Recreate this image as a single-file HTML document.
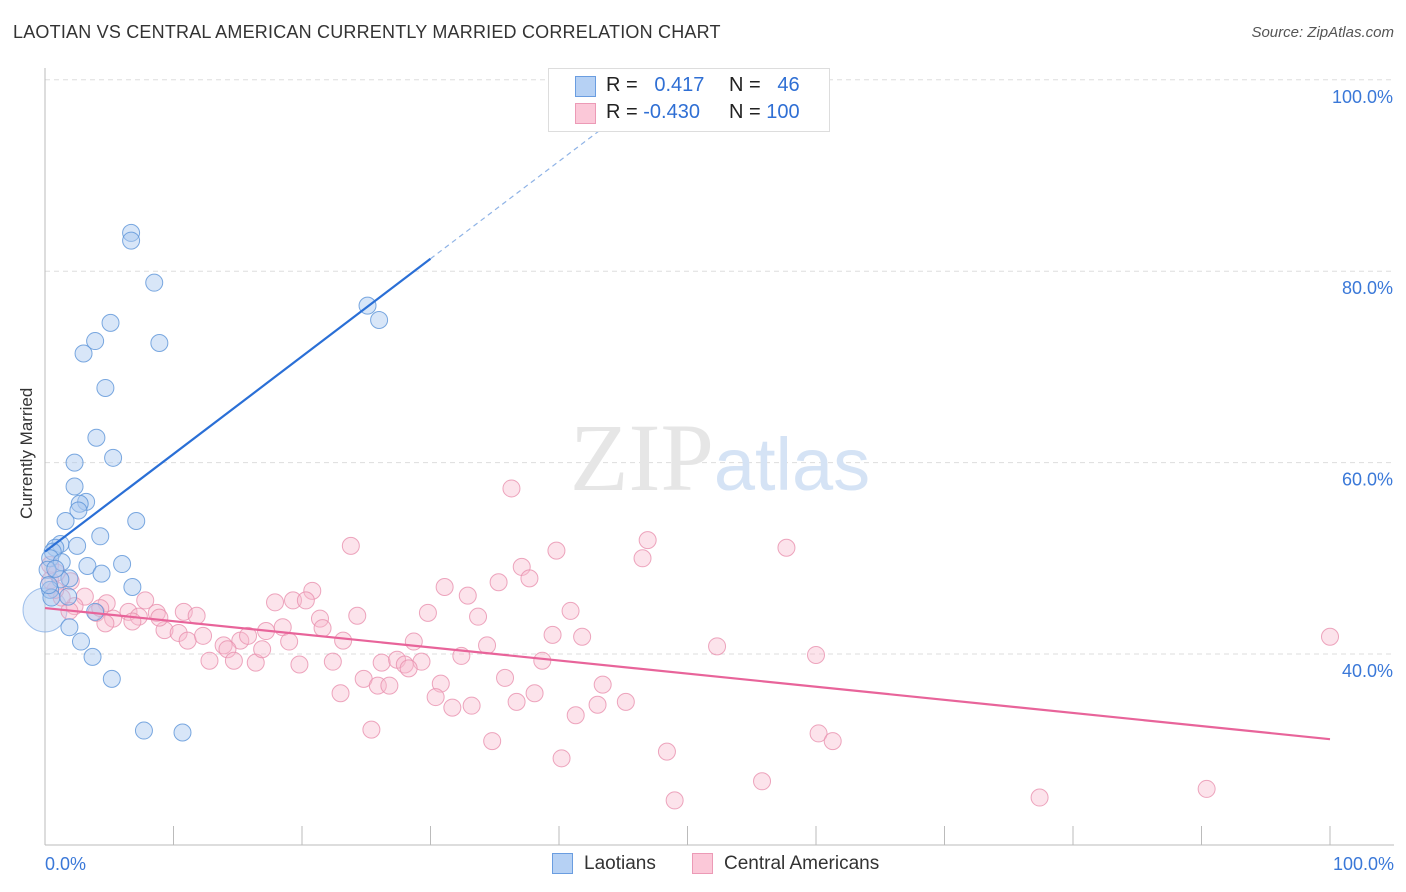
<!DOCTYPE html>
<html><head><meta charset="utf-8"><style>
body{margin:0;background:#fff;font-family:"Liberation Sans",sans-serif;}
#wrap{position:relative;width:1406px;height:892px;overflow:hidden;}
.t{position:absolute;white-space:nowrap;}
</style></head><body>
<div id="wrap">
<div class="t" style="left:13px;top:22px;font-size:18px;color:#333;letter-spacing:0.2px">LAOTIAN VS CENTRAL AMERICAN CURRENTLY MARRIED CORRELATION CHART</div>
<div class="t" style="right:12px;top:24px;font-size:15px;color:#555;font-style:italic">Source: ZipAtlas.com</div>
<div class="t" style="left:-38px;top:444px;font-size:17px;color:#333;transform:rotate(-90deg);width:130px;text-align:center">Currently Married</div>
<svg id="svg" width="1406" height="892" style="position:absolute;left:0;top:0"></svg>
<div class="t" style="left:548px;top:68px;width:280px;height:62px;border:1px solid #ddd;background:#fff"></div>
<div class="t" style="left:575px;top:76px;width:19px;height:19px;background:#b6d1f4;border:1px solid #6a9de0"></div>
<div class="t" style="left:575px;top:103px;width:19px;height:19px;background:#fbc8d8;border:1px solid #ec9ab6"></div>
<div class="t" style="left:606px;top:74px;font-size:20px;color:#222">R = &nbsp;&nbsp;<span style="color:#2f6fd4">0.417</span></div>
<div class="t" style="left:729px;top:74px;font-size:20px;color:#222">N = &nbsp;&nbsp;<span style="color:#2f6fd4">46</span></div>
<div class="t" style="left:606px;top:101px;font-size:20px;color:#222">R = <span style="color:#2f6fd4">-0.430</span></div>
<div class="t" style="left:729px;top:101px;font-size:20px;color:#222">N = <span style="color:#2f6fd4">100</span></div>
<div class="t" style="left:552px;top:853px;width:19px;height:19px;background:#b6d1f4;border:1px solid #6a9de0"></div>
<div class="t" style="left:584px;top:853px;font-size:19px;color:#333">Laotians</div>
<div class="t" style="left:692px;top:853px;width:19px;height:19px;background:#fbc8d8;border:1px solid #ec9ab6"></div>
<div class="t" style="left:724px;top:853px;font-size:19px;color:#333">Central Americans</div>
</div>
<script>
const blueX=[6.7,6.7,8.5,5.1,3.9,3.0,8.9,4.7,4.0,5.3,2.3,2.3,3.2,2.7,2.6,1.6,7.1,4.3,1.2,0.8,2.5,0.6,0.4,3.3,6.0,1.3,4.4,1.9,1.2,0.2,6.8,0.4,1.8,3.9,1.9,2.8,3.7,5.2,7.7,10.7,25.1,26.0,0.5,0.8,0.3];
const blueY=[84.0,83.2,78.8,74.6,72.7,71.4,72.5,67.8,62.6,60.5,60.0,57.5,55.9,55.7,55.0,53.9,53.9,52.3,51.5,51.1,51.3,50.7,50.0,49.2,49.4,49.6,48.4,47.9,47.8,48.8,47.0,46.7,46.0,44.4,42.8,41.3,39.7,37.4,32.0,31.8,76.4,74.9,45.9,48.9,47.2];
const pinkX=[36.3,23.8,39.8,46.9,57.7,46.5,37.1,37.7,35.3,31.1,32.9,20.8,17.9,19.3,20.3,7.8,4.8,3.1,40.9,29.8,24.3,33.7,21.4,10.8,11.8,8.7,6.5,4.0,2.3,1.3,0.8,0.4,0.4,7.3,5.3,6.8,4.7,9.3,10.4,11.1,12.3,13.9,15.2,15.8,17.2,18.5,21.6,23.2,19.0,28.7,39.5,41.8,52.3,34.4,32.4,38.7,60.0,100,12.8,14.2,14.7,16.4,16.9,19.8,22.4,26.2,27.4,28.0,29.3,28.3,24.8,35.8,43.4,30.8,23.0,25.9,26.8,30.4,31.7,33.2,36.7,38.1,41.3,43.0,45.2,25.4,34.8,40.2,48.4,60.2,61.3,49.0,55.8,77.4,90.4,1.9,4.3,8.9,2.0,0.9];
const pinkY=[57.3,51.3,50.8,51.9,51.1,50.0,49.1,47.9,47.5,47.0,46.1,46.6,45.4,45.6,45.6,45.6,45.3,46.0,44.5,44.3,44.0,43.9,43.7,44.4,44.0,44.3,44.4,44.3,45.0,45.9,46.7,47.7,49.3,43.9,43.7,43.4,43.2,42.5,42.2,41.4,41.9,40.9,41.4,41.9,42.4,42.8,42.7,41.4,41.3,41.3,42.0,41.8,40.8,40.9,39.8,39.3,39.9,41.8,39.3,40.5,39.3,39.1,40.5,38.9,39.2,39.1,39.4,38.9,39.2,38.5,37.4,37.5,36.8,36.9,35.9,36.7,36.7,35.5,34.4,34.6,35.0,35.9,33.6,34.7,35.0,32.1,30.9,29.1,29.8,31.7,30.9,24.7,26.7,25.0,25.9,44.5,44.8,43.8,47.6,48.5];
const blueTrend=[0,50.7,30,81.3,46.3,97.9];
const pinkTrend=[0,44.8,100,31.1];
const yTicks=[40,60,80,100];
const xTicks=[0,10,20,30,40,50,60,70,80,90,100];
const NS="http://www.w3.org/2000/svg";
const svg=document.getElementById('svg');
function sx(v){return 45+v*12.85;}
function sy(v){return 654-(v-40)*9.57;}
function mk(tag,attrs){const e=document.createElementNS(NS,tag);for(const k in attrs)e.setAttribute(k,attrs[k]);svg.appendChild(e);return e;}
yTicks.forEach(t=>{
  const g=mk('line',{x1:45,x2:1394,y1:sy(t),y2:sy(t),stroke:'#ddd','stroke-dasharray':'5,4'});
  
  
  const tx=mk('text',{x:1393,y:sy(t)+23,'text-anchor':'end','font-size':18,fill:'#3a78d8','font-family':'Liberation Sans, sans-serif'});
  tx.textContent=t.toFixed(1)+'%';
  
  
});
const ax=mk('line',{x1:45,x2:45,y1:68,y2:845,stroke:'#bbb'});


const bx=mk('line',{x1:45,x2:1394,y1:845,y2:845,stroke:'#bbb'});


xTicks.forEach(t=>{
  const l=mk('line',{x1:sx(t),x2:sx(t),y1:826,y2:845,stroke:'#bbb'});
  
  
});
[[0,'0.0%','start',45],[100,'100.0%','end',1394]].forEach(a=>{
  const tx=mk('text',{x:a[3],y:870,'text-anchor':a[2],'font-size':18,fill:'#3a78d8','font-family':'Liberation Sans, sans-serif'});
  tx.textContent=a[1];
  
  
});
const wm=mk('text',{x:720,y:490,'text-anchor':'middle','font-size':96,fill:'#e6e6e6','font-family':'Liberation Serif, serif'});
wm.innerHTML='ZIP<tspan fill="#d5e3f5" font-family="Liberation Sans, sans-serif" font-size="74">atlas</tspan>';


const big=mk('circle',{cx:sx(0),cy:sy(44.6),r:22,fill:'#a9c8f0','fill-opacity':0.35,stroke:'#6a9de0','stroke-opacity':0.6});


pinkX.forEach((x,i)=>{
  const c=mk('circle',{cx:sx(x),cy:sy(pinkY[i]),r:8.5,fill:'#f7b9cc','fill-opacity':0.4,stroke:'#e990ae','stroke-opacity':0.8});
  
  
});
blueX.forEach((x,i)=>{
  const c=mk('circle',{cx:sx(x),cy:sy(blueY[i]),r:8.5,fill:'#a9c8f0','fill-opacity':0.45,stroke:'#5b93d8','stroke-opacity':0.8});
  
  
});
const bl=mk('line',{x1:sx(blueTrend[0]),y1:sy(blueTrend[1]),x2:sx(blueTrend[2]),y2:sy(blueTrend[3]),stroke:'#2a6fd6','stroke-width':2.2});


const bd=mk('line',{x1:sx(blueTrend[2]),y1:sy(blueTrend[3]),x2:sx(blueTrend[4]),y2:sy(blueTrend[5]),stroke:'#8fb3e6','stroke-width':1.2,'stroke-dasharray':'5,4'});


const pl=mk('line',{x1:sx(pinkTrend[0]),y1:sy(pinkTrend[1]),x2:sx(pinkTrend[2]),y2:sy(pinkTrend[3]),stroke:'#e8649a','stroke-width':2.2});


</script>
</body></html>
